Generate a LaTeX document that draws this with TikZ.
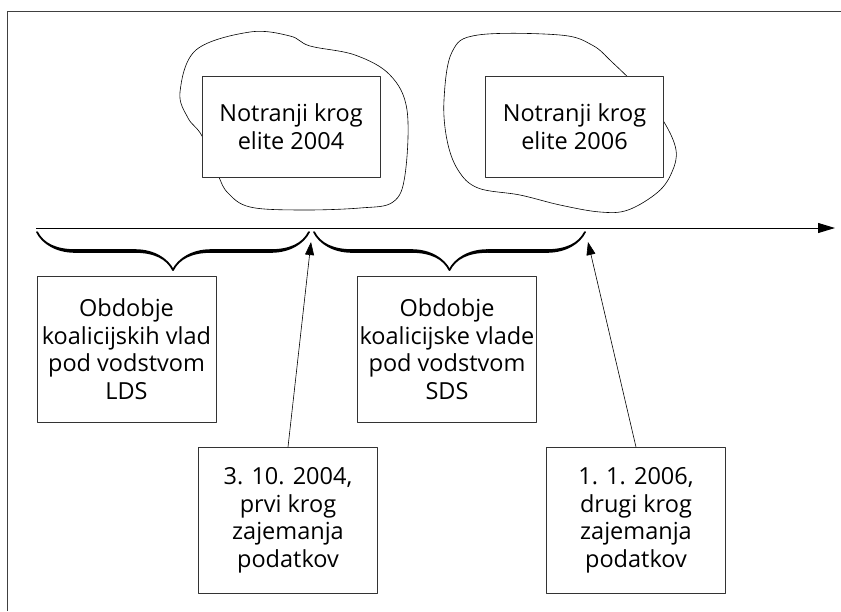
\documentclass[tikz,border=0pt]{standalone}
\usepackage{fontspec}
\setmainfont{Open Sans}
\usetikzlibrary{arrows.meta,decorations.pathreplacing,calligraphy}

\begin{document}
\begin{tikzpicture}[x=1pt,y=-1pt,line join=round]
        \tikzstyle{every node}=[font=\fontsize{23.5}{27.5}\selectfont]
        \tikzstyle{box}=[draw=black!80, line width=0.9pt, fill=white, align=center, inner sep=0pt]
        \tikzstyle{elita}=[box, minimum width=178pt, minimum height=101pt]
        \tikzstyle{obdobje}=[box, minimum width=179pt, minimum height=146pt]
        \tikzstyle{oblak}=[draw, line width=0.6pt]
        \tikzstyle{zaviti}=[draw, line width=3.6pt, pen colour=black, decorate, decoration={calligraphic brace, mirror, amplitude=38pt}]
        \tikzstyle{puscica}=[draw, line width=0.6pt, -{Triangle[length=13pt,width=9pt]}]
        \useasboundingbox (0,0) rectangle (841,611);
        \draw[black!75, line width=1pt] (7,611) -- (7,11) -- (841,11);
        \draw[oblak] plot[smooth cycle, tension=0.6] coordinates {(180,92) (196,50) (250,32) (290,36) (310,46) (355,55) (390,75) (407,110) (405,175) (393,202) (360,208) (300,210) (250,207) (228,193) (218,175) (202,136) (188,118)};
        \draw[oblak] plot[smooth cycle, tension=0.6] coordinates {(444,100) (452,52) (478,35) (560,35) (592,45) (612,62) (640,90) (664,122) (676,150) (672,172) (658,192) (628,210) (600,212) (560,205) (520,195) (478,188) (458,170) (447,140)};
        \node[elita] (krog1) at (291,126.5) {Notranji krog\\elite 2004};
        \node[elita] (krog2) at (574.5,126.5) {Notranji krog\\elite 2006};
        \coordinate (t0) at (36,228);
        \coordinate (t1) at (835,228);
        \draw[line width=1pt, -{Triangle[length=17pt,width=10pt]}] (t0) -- (t1);
        \coordinate (b0) at (37,232);
        \coordinate (b1) at (309,232);
        \coordinate (b2) at (314,232);
        \coordinate (b3) at (585,232);
        \draw[zaviti] (b0) -- (b1);
        \draw[zaviti] (b2) -- (b3);
        \node[obdobje] (lds) at (126.5,349) {Obdobje\\koalicijskih vlad\\pod vodstvom\\LDS};
        \node[obdobje] (sds) at (447,349) {Obdobje\\koalicijske vlade\\pod vodstvom\\SDS};
        \node[obdobje] (datum1) at (288,520.5) {3. 10. 2004,\\prvi krog\\zajemanja\\podatkov};
        \node[obdobje] (datum2) at (636,520.5) {1. 1. 2006,\\drugi krog\\zajemanja\\podatkov};
        \coordinate (r1) at (311,242);
        \coordinate (r2) at (588,242);
        \draw[puscica] (datum1.north) -- (r1);
        \draw[puscica] (datum2.north) -- (r2);
    \end{tikzpicture}
\end{document}
